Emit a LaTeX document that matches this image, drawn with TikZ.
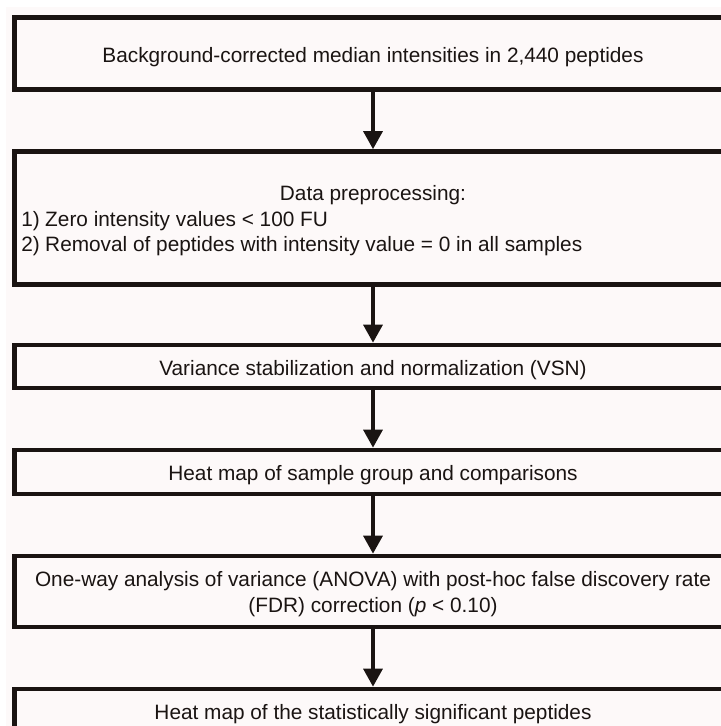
\documentclass[tikz,border=0pt]{standalone}
\usepackage{fontspec}
\setmainfont{Liberation Sans}
\usetikzlibrary{positioning,arrows.meta}
\definecolor{ink}{RGB}{26,20,18}
\definecolor{paper}{RGB}{253,249,249}

\begin{document}
\begin{tikzpicture}[x=0.75pt,y=-0.75pt,
  box/.style={draw=ink,text=ink,line width=3.4pt,minimum width=537.75pt,inner sep=0pt,outer sep=0pt,align=center,text height=13pt,text depth=0pt},
  flow/.style={draw=ink,line width=3pt,-{Triangle[width=14pt,length=13.5pt]},shorten >=1.7pt,shorten <=1.7pt},
  txt/.style={text=ink,inner sep=0pt},
  font=\fontsize{15.6}{19.1}\selectfont]
\useasboundingbox (0,0) rectangle (721,726);
\clip (0,0) rectangle (721,726);
\fill[paper] (6,7) rectangle (721,726);
\node[box,minimum height=54pt] (raw) at (373,53.5) {Background-corrected median intensities in 2,440 peptides};
\node[box,minimum height=99.75pt] (prep) at (373,218) {};
\node[txt,anchor=base] (prephead) at (373,200) {Data preprocessing:};
\node[txt,anchor=base west] (prepone) at (21,226.5) {\makebox[18pt][l]{1)}Zero intensity values < 100 FU};
\node[txt,anchor=base west] (preptwo) at (21,251) {\makebox[18pt][l]{2)}Removal of peptides with intensity value = 0 in all samples};
\node[box,minimum height=32.25pt] (vsn) at (373,366.5) {Variance stabilization and normalization (VSN)};
\node[box,minimum height=33pt] (heatgroup) at (373,472) {Heat map of sample group and comparisons};
\node[box,minimum height=53.25pt,text height=31pt] (anova) at (373,591.5) {One-way analysis of variance (ANOVA) with post-hoc false discovery rate\\(FDR) correction (\textit{p} < 0.10)};
\node[box,minimum height=33pt] (heatsig) at (373,711) {Heat map of the statistically significant peptides};
\draw[flow] (raw) -- (prep);
\draw[flow] (prep) -- (vsn);
\draw[flow] (vsn) -- (heatgroup);
\draw[flow] (heatgroup) -- (anova);
\draw[flow] (anova) -- (heatsig);
\end{tikzpicture}
\end{document}
